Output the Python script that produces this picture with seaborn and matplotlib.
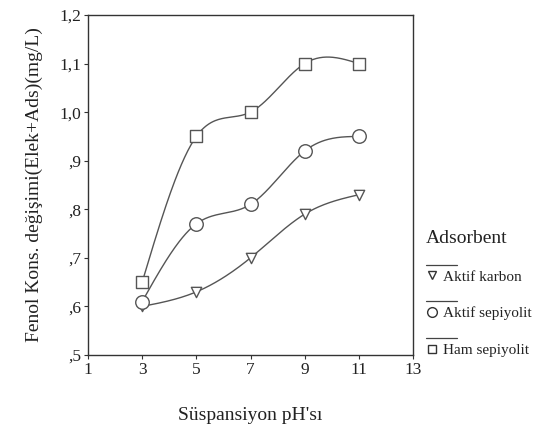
import numpy as np
import pandas as pd
import seaborn as sns
import matplotlib
matplotlib.use("Agg")
import matplotlib.pyplot as plt
from matplotlib.lines import Line2D

# ---- data ----
ph = [3, 5, 7, 9, 11]
aktif_karbon = [0.60, 0.63, 0.70, 0.79, 0.83]
aktif_sepiyolit = [0.61, 0.77, 0.81, 0.92, 0.95]
ham_sepiyolit = [0.65, 0.95, 1.00, 1.10, 1.10]
series_names = ["Aktif karbon", "Aktif sepiyolit", "Ham sepiyolit"]
x_ticks = [1, 3, 5, 7, 9, 11, 13]
y_ticks = [0.5, 0.6, 0.7, 0.8, 0.9, 1.0, 1.1, 1.2]
y_tick_labels = [",5", ",6", ",7", ",8", ",9", "1,0", "1,1", "1,2"]

sns.set_theme(style="white")
plt.rcParams["font.family"] = ["Liberation Serif", "DejaVu Serif"]

GRAY = "#555555"
TXT = "#222222"


def natural_spline(x, y, n=200):
    x = np.asarray(x, float)
    y = np.asarray(y, float)
    m = len(x)
    h = np.diff(x)
    A = np.zeros((m, m))
    b = np.zeros(m)
    A[0, 0] = A[-1, -1] = 1
    for i in range(1, m - 1):
        A[i, i - 1] = h[i - 1]
        A[i, i] = 2 * (h[i - 1] + h[i])
        A[i, i + 1] = h[i]
        b[i] = 3 * ((y[i + 1] - y[i]) / h[i] - (y[i] - y[i - 1]) / h[i - 1])
    c = np.linalg.solve(A, b)
    xs = np.linspace(x[0], x[-1], n)
    ys = np.empty_like(xs)
    for k, xv in enumerate(xs):
        i = min(np.searchsorted(x, xv, side="right") - 1, m - 2)
        dx = xv - x[i]
        bi = (y[i + 1] - y[i]) / h[i] - h[i] * (2 * c[i] + c[i + 1]) / 3
        di = (c[i + 1] - c[i]) / (3 * h[i])
        ys[k] = y[i] + bi * dx + c[i] * dx ** 2 + di * dx ** 3
    return xs, ys


df = pd.DataFrame({
    "pH": ph * 3,
    "val": aktif_karbon + aktif_sepiyolit + ham_sepiyolit,
    "Adsorbent": sum([[s] * len(ph) for s in series_names], []),
})

curves = []
for s in series_names:
    sub = df[df["Adsorbent"] == s]
    xs, ys = natural_spline(sub["pH"], sub["val"])
    curves.append(pd.DataFrame({"pH": xs, "val": ys, "Adsorbent": s}))
curve_df = pd.concat(curves)

fig = plt.figure(figsize=(5.37, 4.29), dpi=100)
ax = fig.add_axes([88 / 537, 1 - 355 / 429, (413 - 88) / 537, (355 - 15) / 429])

palette = {s: GRAY for s in series_names}
markers = {"Aktif karbon": "v", "Aktif sepiyolit": "o", "Ham sepiyolit": "s"}
msize = {"Aktif karbon": 55, "Aktif sepiyolit": 95, "Ham sepiyolit": 65}

sns.lineplot(data=curve_df, x="pH", y="val", hue="Adsorbent", palette=palette,
             linewidth=1.0, legend=False, ax=ax, estimator=None, sort=False)
for s in series_names:
    sub = df[df["Adsorbent"] == s]
    sns.scatterplot(x=sub["pH"], y=sub["val"], marker=markers[s], s=msize[s],
                    facecolor="white", edgecolor=GRAY, linewidth=1.0,
                    ax=ax, legend=False, zorder=3)

ax.set_xlim(1, 13)
ax.set_ylim(0.5, 1.2)
ax.set_xticks(x_ticks)
ax.set_xticklabels([str(t) for t in x_ticks], fontsize=12.5)
ax.set_yticks(y_ticks)
ax.set_yticklabels(y_tick_labels, fontsize=12.5)
ax.tick_params(axis="both", direction="out", length=3, width=0.8, color="#333333",
               pad=2, labelcolor=TXT, bottom=True, left=True)
for sp in ax.spines.values():
    sp.set_color("#333333")
    sp.set_linewidth(1.0)

ax.set_xlabel("Süspansiyon pH'sı", fontsize=14, color=TXT)
ax.xaxis.set_label_coords(0.5, (355 - 416) / 340)
ax.xaxis.label.set_va("center")
ax.set_ylabel("Fenol Kons. değişimi(Elek+Ads)(mg/L)", fontsize=14, color=TXT)
ax.yaxis.set_label_coords((34 - 88) / 325, 0.5)
ax.yaxis.label.set_va("center")

handles = [Line2D([], [], linestyle="none", marker=markers[s],
                  markersize=7 if s == "Aktif sepiyolit" else 6,
                  markerfacecolor="white", markeredgecolor="#333333", markeredgewidth=1.0)
           for s in series_names]
leg = fig.legend(handles, series_names, title="Adsorbent", loc="upper left",
                 bbox_to_anchor=(426 / 537, 1 - 230 / 429), frameon=False,
                 fontsize=11, title_fontsize=14, labelspacing=1.5,
                 handlelength=0.8, handletextpad=0.3, borderaxespad=0,
                 borderpad=0, alignment="left")
for t in leg.get_texts():
    t.set_color(TXT)
leg.get_title().set_color(TXT)

fig.canvas.draw()
renderer = fig.canvas.get_renderer()
W, H = fig.bbox.width, fig.bbox.height
title_bb = leg.get_title().get_window_extent(renderer)
x0 = title_bb.x0 / W
for t in leg.get_texts():
    bb = t.get_window_extent(renderer)
    yline = (bb.y1 + 6) / H
    fig.add_artist(Line2D([x0, x0 + 31 / W], [yline, yline], color="#444444",
                          linewidth=0.9, transform=fig.transFigure))

fig.savefig("out.png", dpi=100, facecolor="white")
